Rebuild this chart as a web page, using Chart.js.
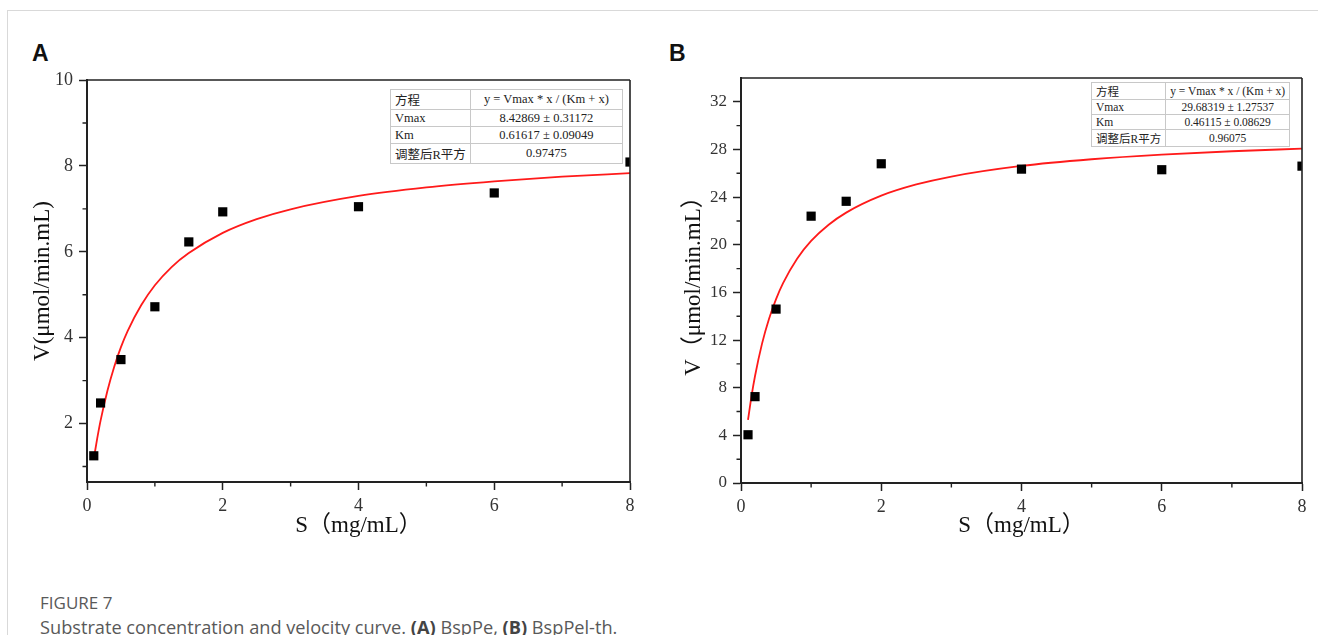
<!DOCTYPE html>
<html>
<head>
<meta charset="utf-8">
<script src="https://cdn.jsdelivr.net/npm/chart.js@4.4.1/dist/chart.umd.min.js"></script>
<style>
  html, body { margin:0; padding:0; background:#fff; }
  body { width:1318px; height:635px; overflow:hidden; position:relative; }
  .frameT { position:absolute; left:7px; top:10px; width:1311px; height:0; border-top:1px solid #d9d9d9; }
  .frameL { position:absolute; left:7px; top:10px; width:0; height:625px; border-left:1px solid #d9d9d9; }
  .plabel { position:absolute; font-family:"Liberation Sans", Arial, sans-serif; font-weight:bold; font-size:23px; color:#111; line-height:1; }
  .cv { position:absolute; top:60px; }
  table.tbl { position:absolute; border-collapse:collapse; background:#fff; z-index:5;
    font-family:"Liberation Serif","Noto Sans CJK SC",serif; color:#222; border:1px solid #999; }
  table.tbl td { border:1px solid #c8c8c8; padding:0 4px; white-space:nowrap; }
  table.tbl td.c { text-align:center; }
  .cap1 { position:absolute; left:40px; top:594px; font-family:"Open Sans",sans-serif; font-size:17px; color:#595959; line-height:1; }
  .cap2 { position:absolute; left:40px; top:618px; font-family:"Open Sans",sans-serif; font-size:18.2px; color:#595959; line-height:1; white-space:nowrap; }
  .cap2 b { color:#444; }
</style>
</head>
<body>
<div class="frameT"></div>
<div class="frameL"></div>
<div class="plabel" style="left:32px;top:42px;">A</div>
<div class="plabel" style="left:669px;top:42px;">B</div>

<canvas id="cA" class="cv" style="left:0px;" width="660" height="490"></canvas>
<canvas id="cB" class="cv" style="left:660px;" width="658" height="490"></canvas>

<table class="tbl" style="left:390px;top:89px;width:233px;font-size:12.5px;">
  <tr style="height:17px"><td style="width:68px">方程</td><td class="c">y = Vmax * x / (Km + x)</td></tr>
  <tr style="height:17px"><td>Vmax</td><td class="c">8.42869 ± 0.31172</td></tr>
  <tr style="height:17px"><td>Km</td><td class="c">0.61617 ± 0.09049</td></tr>
  <tr style="height:17px"><td>调整后R平方</td><td class="c">0.97475</td></tr>
</table>
<table class="tbl" style="left:1091px;top:82px;width:197px;font-size:11.5px;">
  <tr style="height:15px"><td style="width:68px">方程</td><td class="c">y = Vmax * x / (Km + x)</td></tr>
  <tr style="height:15px"><td>Vmax</td><td class="c">29.68319 ± 1.27537</td></tr>
  <tr style="height:15px"><td>Km</td><td class="c">0.46115 ± 0.08629</td></tr>
  <tr style="height:15px"><td>调整后R平方</td><td class="c">0.96075</td></tr>
</table>

<div class="cap1">FIGURE 7</div>
<div class="cap2">Substrate concentration and velocity curve. <b>(A)</b> BspPe, <b>(B)</b> BspPel-th.</div>

<script>
// ---- Data ----
const substrate = [0.1, 0.2, 0.5, 1, 1.5, 2, 4, 6, 8];
const velocityA = [1.25, 2.48, 3.49, 4.72, 6.23, 6.93, 7.05, 7.37, 8.09];
const velocityB = [4.05, 7.25, 14.6, 22.4, 23.65, 26.8, 26.35, 26.3, 26.6];

// fitted curves
const curveX  = [0.1, 0.15, 0.2, 0.3, 0.4, 0.5, 0.6, 0.8, 1, 1.25, 1.5, 2, 2.5, 3, 4, 5, 6, 7, 8];
const curveAY = [1.18, 1.65, 2.07, 2.76, 3.32, 3.78, 4.16, 4.76, 5.22, 5.65, 5.97, 6.44, 6.76, 6.99, 7.30, 7.50, 7.64, 7.75, 7.83];
const curveBY = [5.29, 7.29, 8.98, 11.70, 13.79, 15.44, 16.78, 18.83, 20.32, 21.68, 22.70, 24.12, 25.06, 25.73, 26.62, 27.18, 27.57, 27.85, 28.07];

// ticks
const xTicks   = [0, 2, 4, 6, 8];
const xMinor   = [1, 3, 5, 7];
const yTicksA  = [2, 4, 6, 8, 10];
const yMinorA  = [1, 3, 5, 7, 9];
const yTicksB  = [0, 4, 8, 12, 16, 20, 24, 28, 32];
const yMinorB  = [2, 6, 10, 14, 18, 22, 26, 30];

const xTitle  = 'S（mg/mL）';
const yTitleA = 'V(μmol/min.mL)';
const yTitleB = 'V（μmol/min.mL）';

const AXIS = '#222';
const LABEL = '#333';

const framePlugin = {
  id: 'frameMinor',
  afterDraw(chart, args, opts) {
    const ctx = chart.ctx, a = chart.chartArea;
    const xs = chart.scales.x, ys = chart.scales.y;
    ctx.save();
    ctx.strokeStyle = AXIS;
    ctx.lineWidth = 1.6;
    ctx.beginPath();
    ctx.moveTo(a.left, a.top); ctx.lineTo(a.right, a.top);
    ctx.moveTo(a.right, a.top); ctx.lineTo(a.right, a.bottom);
    ctx.stroke();
    ctx.lineWidth = 1.4;
    ctx.beginPath();
    (opts.xMinor || []).forEach(v => {
      const px = xs.getPixelForValue(v);
      ctx.moveTo(px, a.bottom); ctx.lineTo(px, a.bottom + 4.5);
    });
    (opts.yMinor || []).forEach(v => {
      const py = ys.getPixelForValue(v);
      ctx.moveTo(a.left, py); ctx.lineTo(a.left - 4.5, py);
    });
    ctx.stroke();
    ctx.restore();
  }
};

function makeChart(id, cfg) {
  const pts = substrate.map((s, i) => ({ x: s, y: cfg.values[i] }));
  const curve = curveX.map((s, i) => ({ x: s, y: cfg.curve[i] }));
  return new Chart(document.getElementById(id), {
    type: 'scatter',
    data: {
      datasets: [
        { data: pts, pointStyle: 'rect', pointRadius: 6.5, pointBackgroundColor: '#000',
          pointBorderColor: '#000', pointBorderWidth: 0, showLine: false, clip: 0 },
        { type: 'line', data: curve, borderColor: '#ff1a1a', borderWidth: 1.8, pointRadius: 0,
          fill: false, cubicInterpolationMode: 'monotone', clip: 0 }
      ]
    },
    options: {
      responsive: false,
      animation: false,
      events: [],
      devicePixelRatio: 1,
      layout: { padding: { left: 0, right: cfg.padRight, top: cfg.padTop, bottom: 0 } },
      plugins: { legend: { display: false }, tooltip: { enabled: false },
        frameMinor: { xMinor: xMinor, yMinor: cfg.yMinor } },
      scales: {
        x: {
          type: 'linear', min: 0, max: 8,
          afterBuildTicks: s => { s.ticks = xTicks.map(v => ({ value: v })); },
          afterFit: s => { s.height = cfg.xH; },
          border: { display: true, color: AXIS, width: 2 },
          grid: { drawOnChartArea: false, drawTicks: true, tickLength: 8, tickWidth: 1.5, tickColor: AXIS },
          ticks: { color: LABEL, padding: 5, maxRotation: 0,
            font: { family: '"Liberation Serif", serif', size: 18 } },
          title: { display: true, text: xTitle, color: '#111',
            font: { family: '"Liberation Serif","Noto Sans CJK SC", serif', size: 23, lineHeight: 1 },
            padding: { top: 0, bottom: 13 } }
        },
        y: {
          type: 'linear', min: cfg.yMin, max: cfg.yMax,
          afterBuildTicks: s => { s.ticks = cfg.yTicks.map(v => ({ value: v })); },
          afterFit: s => { s.width = cfg.yW; },
          border: { display: true, color: AXIS, width: 2 },
          grid: { drawOnChartArea: false, drawTicks: true, tickLength: 8, tickWidth: 1.5, tickColor: AXIS },
          ticks: { color: LABEL, padding: 6,
            font: { family: '"Liberation Serif", serif', size: cfg.yFont } },
          title: { display: true, text: cfg.yTitle, color: '#111',
            font: { family: '"Liberation Serif","Noto Sans CJK SC", serif', size: 23, lineHeight: 1 },
            padding: { top: cfg.yTitlePad, bottom: 0 } }
        }
      }
    },
    plugins: [framePlugin]
  });
}

makeChart('cA', { values: velocityA, curve: curveAY, yMin: 0.64, yMax: 10, yTicks: yTicksA, yMinor: yMinorA,
  yTitle: yTitleA, yW: 87, xH: 68, padTop: 20, padRight: 30, yTitlePad: 31, yFont: 18 });
makeChart('cB', { values: velocityB, curve: curveBY, yMin: 0, yMax: 34, yTicks: yTicksB, yMinor: yMinorB,
  yTitle: yTitleB, yW: 81, xH: 67, padTop: 18, padRight: 16, yTitlePad: 22, yFont: 17 });
</script>
</body>
</html>
